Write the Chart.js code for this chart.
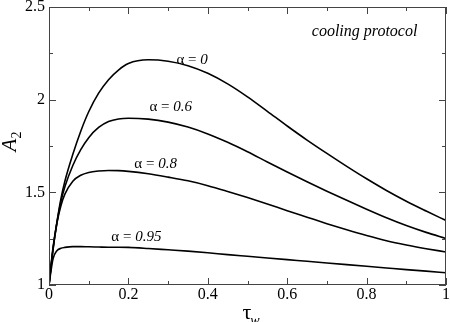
<!DOCTYPE html>
<html>
<head>
<meta charset="utf-8">
<script src="https://cdn.jsdelivr.net/npm/chart.js@4"></script>
<style>
  html, body { margin: 0; padding: 0; background: #fff; }
  #wrap { width: 450px; height: 322px; }
</style>
</head>
<body>
<div id="wrap"><canvas id="chart" width="450" height="322"></canvas></div>
<script>
// tau_w sample points
const tauW = [0, 0.01, 0.02, 0.03, 0.04, 0.06, 0.08, 0.1, 0.125, 0.15, 0.175, 0.2, 0.25, 0.3, 0.35, 0.4,
  0.45, 0.5, 0.55, 0.6, 0.65, 0.7, 0.75, 0.8, 0.85, 0.9, 0.95, 1.0];

// A_2 for each alpha
const alpha0 = [1.0, 1.19, 1.34, 1.465, 1.56, 1.705, 1.83, 1.935, 2.035, 2.108, 2.16, 2.195, 2.215, 2.207, 2.183, 2.142,
  2.085, 2.015, 1.937, 1.858, 1.782, 1.710, 1.640, 1.573, 1.510, 1.452, 1.399, 1.348];
const alpha06 = [1.0, 1.19, 1.335, 1.45, 1.53, 1.645, 1.73, 1.795, 1.85, 1.882, 1.896, 1.90, 1.895, 1.879, 1.852, 1.815,
  1.770, 1.719, 1.664, 1.610, 1.557, 1.506, 1.457, 1.409, 1.363, 1.321, 1.284, 1.251];
const alpha08 = [1.0, 1.20, 1.335, 1.428, 1.49, 1.56, 1.592, 1.607, 1.615, 1.618, 1.617, 1.613, 1.60, 1.582, 1.562, 1.536,
  1.505, 1.472, 1.437, 1.401, 1.366, 1.331, 1.298, 1.267, 1.239, 1.216, 1.196, 1.178];
const alpha095 = [1.0, 1.14, 1.185, 1.198, 1.203, 1.207, 1.207, 1.206, 1.205, 1.204, 1.204, 1.203, 1.197, 1.19, 1.183, 1.174,
  1.164, 1.155, 1.146, 1.137, 1.128, 1.119, 1.11, 1.101, 1.092, 1.083, 1.075, 1.066];

const xTicks = [0, 0.2, 0.4, 0.6, 0.8, 1];
const yTicks = [1, 1.5, 2, 2.5];

// curve labels: [alpha text, x, y] in data units
const curveLabels = [
  ['0', 0.321, 2.214],
  ['0.6', 0.253, 1.96],
  ['0.8', 0.215, 1.653],
  ['0.95', 0.157, 1.259]
];

const serif = "'Liberation Serif', 'DejaVu Serif', serif";

function toPoints(ys) {
  return tauW.map((x, i) => ({ x: x, y: ys[i] }));
}

function lineSet(ys) {
  return {
    data: toPoints(ys),
    borderColor: '#000',
    borderWidth: 1.6,
    pointRadius: 0,
    fill: false,
    cubicInterpolationMode: 'monotone'
  };
}

// frame, inward ticks and all the extra text
const framePlugin = {
  id: 'frame',
  afterDraw(chart) {
    const ctx = chart.ctx;
    const a = chart.chartArea;
    const xs = chart.scales.x, ys = chart.scales.y;
    ctx.save();
    ctx.strokeStyle = '#444';
    ctx.lineWidth = 1;
    ctx.strokeRect(a.left + 0.5, a.top + 0.5, a.right - a.left - 1, a.bottom - a.top - 1);

    ctx.beginPath();
    for (let v = 0; v <= 10; v++) {
      const px = Math.round(xs.getPixelForValue(v / 10)) + 0.5;
      const len = v % 2 === 0 ? 7 : 4;
      ctx.moveTo(px, a.bottom); ctx.lineTo(px, a.bottom - len);
      ctx.moveTo(px, a.top); ctx.lineTo(px, a.top + len);
    }
    for (let v = 0; v <= 6; v++) {
      const py = Math.round(ys.getPixelForValue(1 + v * 0.25)) + 0.5;
      const len = v % 2 === 0 ? 7 : 4;
      ctx.moveTo(a.left, py); ctx.lineTo(a.left + len, py);
      ctx.moveTo(a.right, py); ctx.lineTo(a.right - len, py);
    }
    ctx.stroke();

    ctx.fillStyle = '#000';
    ctx.textBaseline = 'middle';

    // alpha labels
    curveLabels.forEach(([val, x, y]) => {
      let px = xs.getPixelForValue(x);
      const py = ys.getPixelForValue(y);
      ctx.textAlign = 'left';
      ctx.font = '15px ' + serif;
      const head = '\u03B1 = ';
      ctx.fillText(head, px, py);
      px += ctx.measureText(head).width;
      ctx.font = 'italic 15px ' + serif;
      ctx.fillText(val, px, py);
    });

    // cooling protocol
    ctx.font = 'italic 16px ' + serif;
    ctx.textAlign = 'right';
    ctx.fillText('cooling protocol', xs.getPixelForValue(0.928), ys.getPixelForValue(2.365));

    // x axis title: tau_w
    ctx.textBaseline = 'alphabetic';
    ctx.textAlign = 'left';
    ctx.font = '22px ' + serif;
    const tauW0 = ctx.measureText('\u03C4').width;
    const tx = (a.left + a.right) / 2 - 5;
    ctx.fillText('\u03C4', tx, 319);
    ctx.font = 'italic 14px ' + serif;
    ctx.fillText('w', tx + tauW0 - 1, 325);

    // y axis title: A_2
    ctx.translate(16, 141);
    ctx.rotate(-Math.PI / 2);
    ctx.font = 'italic 21px ' + serif;
    ctx.textAlign = 'left';
    const aw = ctx.measureText('A').width;
    ctx.fillText('A', -aw / 2 - 4, 0);
    ctx.font = '14px ' + serif;
    ctx.fillText('2', aw / 2 - 4, 5);
    ctx.restore();
  }
};

new Chart(document.getElementById('chart'), {
  type: 'line',
  data: {
    datasets: [lineSet(alpha0), lineSet(alpha06), lineSet(alpha08), lineSet(alpha095)]
  },
  options: {
    responsive: false,
    animation: false,
    events: [],
    layout: { padding: { left: 0, right: 4, top: 7, bottom: 0 } },
    plugins: { legend: { display: false }, tooltip: { enabled: false } },
    scales: {
      x: {
        type: 'linear',
        min: 0, max: 1,
        grid: { display: false, drawTicks: false },
        border: { display: false },
        afterBuildTicks: s => { s.ticks = xTicks.map(v => ({ value: v })); },
        ticks: {
          padding: 0,
          color: '#000',
          font: { family: serif, size: 16 },
          callback: v => String(v)
        },
        afterFit: s => { s.height = 37; s.paddingLeft = 0; s.paddingRight = 0; }
      },
      y: {
        min: 1, max: 2.5,
        grid: { display: false, drawTicks: false },
        border: { display: false },
        afterBuildTicks: s => { s.ticks = yTicks.map(v => ({ value: v })); },
        ticks: {
          padding: 4,
          color: '#000',
          font: { family: serif, size: 16 },
          callback: v => String(v)
        },
        afterFit: s => { s.width = 49; s.paddingTop = 0; s.paddingBottom = 0; }
      }
    }
  },
  plugins: [framePlugin]
});
</script>
</body>
</html>
